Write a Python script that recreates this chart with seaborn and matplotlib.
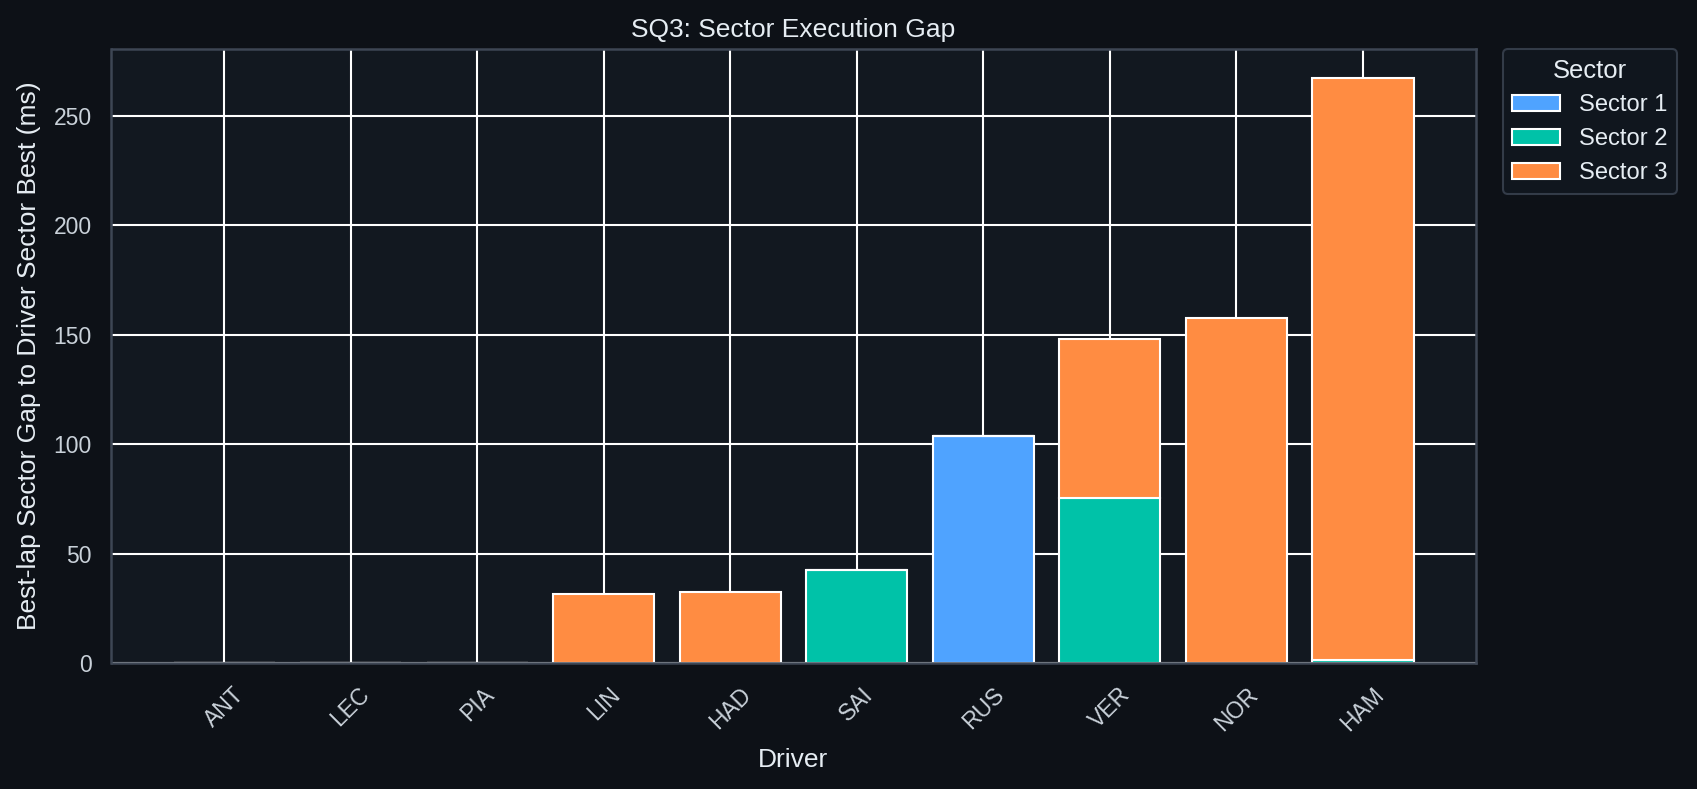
import matplotlib
matplotlib.use("Agg")
import matplotlib.pyplot as plt
import seaborn as sns
import numpy as np
import pandas as pd
from matplotlib.patches import Patch

drivers = ["ANT", "LEC", "PIA", "LIN", "HAD", "SAI", "RUS", "VER", "NOR", "HAM"]
sector1 = [0, 0, 0, 0, 0, 0, 103.7, 0, 0, 0]
sector2 = [0, 0, 0, 0, 0, 42.4, 0, 75.5, 0, 1.5]
sector3 = [0, 0, 0, 31.6, 32.6, 0, 0, 72.7, 157.6, 265.6]
sector_names = ["Sector 1", "Sector 2", "Sector 3"]
colors = ["#4FA3FF", "#00C2A8", "#FF8C42"]

fig_bg = "#0d1117"
ax_bg = "#121820"
spine_c = "#3d4654"
text_c = "#e6edf3"
tick_c = "#c9d1d9"

sns.set_theme(style="darkgrid", context="notebook")
plt.rcParams.update({
    "font.family": ["Liberation Sans", "DejaVu Sans"],
    "figure.facecolor": fig_bg,
    "axes.facecolor": ax_bg,
    "axes.edgecolor": spine_c,
    "grid.color": "white",
    "text.color": text_c,
    "axes.labelcolor": text_c,
    "xtick.color": tick_c,
    "ytick.color": tick_c,
})

fig = plt.figure(figsize=(1697 / 150, 789 / 150), dpi=150)
ax = fig.add_axes([111.5 / 1697, 1 - 663.3 / 789, (1475.5 - 111.5) / 1697, (663.3 - 49) / 789])

df = pd.DataFrame({"Driver": drivers, "S1": sector1, "S2": sector2, "S3": sector3})
bottom = np.zeros(len(drivers))
for col, name, c in zip(["S1", "S2", "S3"], sector_names, colors):
    sns.barplot(data=df, x="Driver", y=col, bottom=bottom, color=c,
                edgecolor="white", linewidth=1.0, width=0.8, ax=ax, saturation=1)
    bottom = bottom + df[col].values

for s in ax.spines.values():
    s.set_visible(True)
    s.set_color(spine_c)
    s.set_linewidth(1.2)

ax.grid(True, color="white", linewidth=1.0)
ax.set_axisbelow(True)
n = len(drivers)
span = (n - 1) + 0.8
ax.set_xlim(-0.4 - 0.05 * span, (n - 1) + 0.4 + 0.05 * span)
ax.set_ylim(0, bottom.max() * 1.05)
ax.set_yticks([0, 50, 100, 150, 200, 250])
ax.set_title("SQ3: Sector Execution Gap", color=text_c, fontsize=12.7)
ax.set_xlabel("Driver", color=text_c, fontsize=12.7, labelpad=6)
ax.set_ylabel("Best-lap Sector Gap to Driver Sector Best (ms)", color=text_c, fontsize=12.7, labelpad=6)
plt.setp(ax.get_xticklabels(), rotation=45)
ax.tick_params(axis="both", labelsize=11)

handles = [Patch(facecolor=c, edgecolor="white", label=n_) for n_, c in zip(sector_names, colors)]
leg = ax.legend(handles=handles, title="Sector", loc="upper left", bbox_to_anchor=(1.02, 1.0),
                borderaxespad=0, frameon=True, fontsize=11.4, title_fontsize=12.3)
leg.get_frame().set_facecolor(ax_bg)
leg.get_frame().set_edgecolor(spine_c)
leg.get_title().set_color(text_c)
for t in leg.get_texts():
    t.set_color(text_c)

fig.savefig("out.png", dpi=150, facecolor=fig_bg)
